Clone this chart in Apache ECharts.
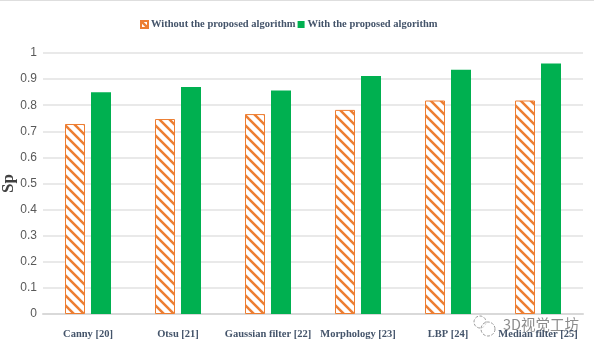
<!DOCTYPE html>
<html>
<head>
<meta charset="utf-8">
<style>
  html, body { margin: 0; padding: 0; background: #fff; }
  #chart { width: 594px; height: 352px; }
</style>
<script src="https://cdn.jsdelivr.net/npm/echarts@6/dist/echarts.min.js"></script>
</head>
<body>
<div id="chart"></div>
<script>
const categories = ["Canny [20]", "Otsu [21]", "Gaussian filter [22]", "Morphology [23]", "LBP [24]", "Median filter [25]"];
const withoutAlgorithm = [0.728, 0.747, 0.766, 0.782, 0.818, 0.818];
const withAlgorithm = [0.85, 0.87, 0.856, 0.912, 0.936, 0.96];
const yTicks = { min: 0, max: 1, interval: 0.1 };

const ORANGE = "#ed7d31";
const GREEN = "#00b050";
const LABEL = "#44546a";
const SERIF = '"Liberation Serif", serif';

// diagonal stripes for the orange bars
function stripes() {
  const size = 10;
  const c = document.createElement("canvas");
  c.width = size;
  c.height = size;
  const ctx = c.getContext("2d");
  ctx.fillStyle = "#fff";
  ctx.fillRect(0, 0, size, size);
  ctx.strokeStyle = ORANGE;
  ctx.lineWidth = 2.5;
  for (let i = -size; i <= size; i += size) {
    ctx.beginPath();
    ctx.moveTo(i - 2, -2);
    ctx.lineTo(i + size + 2, size + 2);
    ctx.stroke();
  }
  return c;
}

const chart = echarts.init(document.getElementById("chart"));
chart.setOption({
  animation: false,
  backgroundColor: "#fff",
  grid: { left: 43, right: 11, top: 53, bottom: 38, outerBoundsMode: "none" },
  legend: {
    top: 14,
    left: 135,
    itemWidth: 7,
    itemHeight: 7,
    itemGap: 2,
    icon: "rect",
    textStyle: { fontFamily: SERIF, fontWeight: "bold", fontSize: 10.5, color: LABEL, padding: [0, 0, 0, -2] },
  },
  xAxis: {
    type: "category",
    data: categories,
    axisLine: { lineStyle: { color: "#d9d9d9", width: 2 } },
    axisTick: { show: false },
    axisLabel: {
      interval: 0,
      margin: 15,
      fontFamily: SERIF,
      fontWeight: "bold",
      fontSize: 10.5,
      color: LABEL,
    },
  },
  yAxis: {
    type: "value",
    min: yTicks.min,
    max: yTicks.max,
    interval: yTicks.interval,
    name: "Sp",
    nameLocation: "middle",
    nameGap: 26,
    nameMoveOverlap: false,
    nameTextStyle: { fontFamily: SERIF, fontWeight: "bold", fontSize: 17, color: "#404040" },
    axisLine: { show: false },
    axisTick: { show: false },
    axisLabel: {
      margin: 6,
      fontFamily: '"Liberation Sans Narrow", "Liberation Sans", sans-serif',
      fontSize: 12,
      color: "#595959",
      formatter: (v) => String(Math.round(v * 10) / 10),
    },
    splitLine: { lineStyle: { color: "#e2e2e2", width: 1.5 } },
  },
  series: [
    {
      name: "Without the proposed algorithm",
      type: "bar",
      data: withoutAlgorithm,
      barWidth: 20,
      barGap: "30%",
      itemStyle: {
        color: { image: stripes(), repeat: "repeat" },
        borderColor: ORANGE,
        borderWidth: 1,
      },
    },
    {
      name: "With the proposed algorithm",
      type: "bar",
      data: withAlgorithm,
      barWidth: 20,
      itemStyle: { color: GREEN },
    },
  ],
  graphic: [
    // grey rule along the top edge of the picture
    { type: "rect", shape: { x: 0, y: 0, width: 594, height: 1 }, style: { fill: "#dedede" } },
    // watermark
    { type: "circle", shape: { cx: 480, cy: 322, r: 6 }, style: { fill: "rgba(255,255,255,0.6)", stroke: "#9a9a9a", lineWidth: 1, lineDash: [3, 1.5] } },
    { type: "circle", shape: { cx: 488, cy: 329, r: 7 }, style: { fill: "rgba(255,255,255,0.6)", stroke: "#9a9a9a", lineWidth: 1, lineDash: [3, 1.5] } },
    {
      type: "text",
      x: 503,
      y: 317,
      style: {
        text: "3D视觉工坊",
        fontFamily: '"Noto Sans CJK SC", sans-serif',
        fontSize: 14.5,
        fill: "rgba(90,90,90,0.7)",
      },
    },
  ],
});
</script>
</body>
</html>
